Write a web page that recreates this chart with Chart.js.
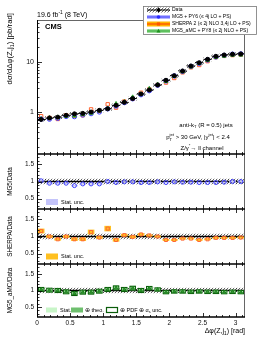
<!DOCTYPE html>
<html>
<head>
<meta charset="utf-8">
<script src="https://cdn.jsdelivr.net/npm/chart.js@4.4.1/dist/chart.umd.min.js"></script>
<style>
  html, body { margin: 0; padding: 0; background: #fff; }
  canvas { display: block; }
</style>
</head>
<body>
<canvas id="canvas" width="266" height="344"></canvas>
<script>
// dphi(Z,j1) bin centres, 25 bins from 0 to pi
const binCenters = [0.063, 0.188, 0.314, 0.440, 0.565, 0.691, 0.817, 0.942, 1.068, 1.194, 1.319, 1.445, 1.571,
                    1.696, 1.822, 1.948, 2.073, 2.199, 2.325, 2.450, 2.576, 2.702, 2.827, 2.953, 3.079];
const binHalf = 0.0628;

// measured cross section [pb/rad] and its relative uncertainty
const dataXsec = [0.71, 0.76, 0.79, 0.86, 0.92, 0.94, 1.00, 1.08, 1.16, 1.36, 1.56, 1.86, 2.29,
                  2.75, 3.47, 4.31, 5.32, 6.61, 8.32, 9.68, 11.3, 13.0, 13.8, 14.3, 14.5];
const dataUnc = [0.07, 0.07, 0.07, 0.07, 0.07, 0.07, 0.07, 0.07, 0.07, 0.07, 0.07, 0.07, 0.07,
                 0.07, 0.07, 0.07, 0.07, 0.07, 0.07, 0.07, 0.07, 0.07, 0.07, 0.07, 0.07];

// predictions / data
const mg5Ratio = [1.02, 0.95, 0.95, 0.95, 0.88, 0.93, 0.93, 0.93, 1.00, 0.97, 0.99, 0.99, 0.97,
                  0.97, 0.99, 0.97, 0.99, 0.98, 0.98, 0.97, 0.97, 0.97, 0.98, 1.00, 1.00];
const mg5Stat = [0.02, 0.02, 0.02, 0.02, 0.02, 0.02, 0.02, 0.02, 0.02, 0.02, 0.02, 0.02, 0.02,
                 0.02, 0.02, 0.02, 0.02, 0.02, 0.02, 0.02, 0.02, 0.02, 0.02, 0.02, 0.02];
const sherpaRatio = [1.16, 1.00, 0.92, 1.00, 0.92, 0.92, 1.13, 0.97, 1.23, 0.90, 1.04, 0.99, 1.06,
                     1.03, 1.00, 0.90, 0.90, 0.94, 0.94, 0.90, 0.92, 0.96, 0.96, 0.96, 0.97];
const sherpaStat = [0.07, 0.04, 0.04, 0.04, 0.05, 0.05, 0.07, 0.04, 0.08, 0.05, 0.04, 0.04, 0.04,
                    0.03, 0.03, 0.03, 0.03, 0.03, 0.03, 0.03, 0.03, 0.03, 0.03, 0.03, 0.03];
const amcRatio = [1.03, 1.01, 1.00, 0.96, 0.91, 0.95, 0.95, 0.98, 1.03, 1.08, 1.03, 1.07, 1.00,
                  1.07, 1.03, 0.95, 0.97, 0.97, 0.96, 0.97, 0.96, 0.96, 0.95, 0.96, 0.95];
const amcStat = [0.03, 0.03, 0.03, 0.03, 0.03, 0.03, 0.03, 0.03, 0.03, 0.03, 0.03, 0.03, 0.03,
                 0.03, 0.03, 0.03, 0.03, 0.03, 0.03, 0.03, 0.03, 0.03, 0.03, 0.03, 0.03];
const amcTheo = [0.07, 0.07, 0.07, 0.07, 0.07, 0.07, 0.07, 0.07, 0.07, 0.07, 0.07, 0.07, 0.07,
                 0.06, 0.06, 0.06, 0.06, 0.06, 0.06, 0.06, 0.06, 0.06, 0.06, 0.06, 0.06];
const amcPdf = [0.08, 0.08, 0.08, 0.08, 0.08, 0.08, 0.08, 0.08, 0.08, 0.08, 0.08, 0.08, 0.08,
                0.07, 0.07, 0.07, 0.07, 0.07, 0.07, 0.07, 0.07, 0.07, 0.07, 0.07, 0.07];

const xTickVals = [0, 0.5, 1, 1.5, 2, 2.5, 3];
const mainTickVals = [1, 10];
const ratioTickVals = [0.5, 1, 1.5];

const FONT = '"Liberation Sans", Arial, sans-serif';
const canvas = document.getElementById('canvas');
const ctx = canvas.getContext('2d');

// hatch pattern for data uncertainty
const hc = document.createElement('canvas');
hc.width = 3; hc.height = 3;
const hg = hc.getContext('2d');
hg.strokeStyle = '#000'; hg.lineWidth = 0.6;
hg.beginPath(); hg.moveTo(0, 3); hg.lineTo(3, 0); hg.stroke();
const hatch = ctx.createPattern(hc, 'repeat');

function pts(vals) {
  return binCenters.map((x, i) => ({ x: x, y: vals[i] }));
}
function band(center, half) {
  return binCenters.map((x, i) => ({ x: x, y: [center[i] - half[i], center[i] + half[i]] }));
}
function barSet(axis, data, fill, order, pct, border) {
  return {
    type: 'bar', yAxisID: axis, data: data, backgroundColor: fill,
    borderColor: border || 'rgba(0,0,0,0)', borderWidth: border ? 1.1 : 0, borderSkipped: false,
    grouped: false, barPercentage: pct || 1, categoryPercentage: 1, order: order
  };
}
function markSet(axis, data, style, color, fill, r, order) {
  return {
    type: 'scatter', yAxisID: axis, data: data, pointStyle: style, pointRadius: r,
    borderColor: color, backgroundColor: fill, pointBorderWidth: 1, showLine: false, order: order
  };
}

const ones = binCenters.map(() => 1);
const mg5Main = dataXsec.map((v, i) => v * mg5Ratio[i]);
const sherpaMain = dataXsec.map((v, i) => v * sherpaRatio[i]);
const amcMain = dataXsec.map((v, i) => v * amcRatio[i]);
const dataAbsUnc = dataXsec.map((v, i) => v * dataUnc[i]);

const datasets = [
  // main panel
  barSet('y0', band(dataXsec, dataAbsUnc), hatch, 20),
  markSet('y0', pts(sherpaMain), 'rect', '#ff6633', 'rgba(0,0,0,0)', 2.4, 4),
  markSet('y0', pts(mg5Main), 'circle', '#3b3bff', 'rgba(0,0,0,0)', 2.2, 3),
  markSet('y0', pts(amcMain), 'triangle', '#2e9e2e', '#2e9e2e', 2.2, 2),
  markSet('y0', pts(dataXsec), 'circle', '#000', '#000', 2, 0),
  // MG5 / data
  barSet('y1', band(ones, dataUnc), hatch, 20),
  barSet('y1', band(mg5Ratio, mg5Stat), '#c4c4fa', 15, 0.8),
  markSet('y1', pts(mg5Ratio), 'circle', '#3b3bff', 'rgba(0,0,0,0)', 2, 3),
  // SHERPA / data
  barSet('y2', band(ones, dataUnc), hatch, 20),
  barSet('y2', band(sherpaRatio, sherpaStat), '#ffc020', 15, 0.8),
  markSet('y2', pts(sherpaRatio), 'rect', '#ff6633', 'rgba(0,0,0,0)', 2.2, 3),
  // MG5_aMC / data
  barSet('y3', band(ones, dataUnc), hatch, 20),
  barSet('y3', band(amcRatio, amcPdf), 'rgba(0,0,0,0)', 12, 0.8, '#0b5d0b'),
  barSet('y3', band(amcRatio, amcTheo), '#6ebf6e', 14, 0.8),
  barSet('y3', band(amcRatio, amcStat), '#c8f5c8', 13, 0.8),
  markSet('y3', pts(amcRatio), 'triangle', '#1f7f1f', '#2e9e2e', 2, 3)
];

const tickFont = { family: FONT, size: 6.5 };
function ratioAxis(weight) {
  return {
    type: 'linear', position: 'left', stack: 'panels', stackWeight: weight, min: 0.2, max: 1.8,
    grid: { display: false, drawTicks: false }, border: { display: false },
    ticks: { font: tickFont, color: '#111', padding: 3, callback: v => String(v) },
    afterBuildTicks: s => { s.ticks = ratioTickVals.map(v => ({ value: v })); },
    afterFit: s => { s.width = 37; }
  };
}

// rich text: parts with optional sub / sup
function richWidth(c, parts, size) {
  let w = 0;
  parts.forEach(p => {
    if (p.ss) {
      c.font = (size * 0.7) + 'px ' + FONT;
      w += Math.max(c.measureText(p.ss[0]).width, c.measureText(p.ss[1]).width);
    } else {
      c.font = (p.s ? size * 0.7 : size) + 'px ' + FONT;
      w += c.measureText(p.t).width;
    }
  });
  return w;
}
function richText(c, parts, x, y, size, align) {
  const w = richWidth(c, parts, size);
  let cx = align === 'right' ? x - w : align === 'center' ? x - w / 2 : x;
  c.textBaseline = 'middle'; c.textAlign = 'left';
  parts.forEach(p => {
    if (p.ss) {
      c.font = (size * 0.7) + 'px ' + FONT;
      c.fillText(p.ss[0], cx, y + size * 0.35);
      c.fillText(p.ss[1], cx, y - size * 0.4);
      cx += Math.max(c.measureText(p.ss[0]).width, c.measureText(p.ss[1]).width);
    } else {
      c.font = (p.s ? size * 0.7 : size) + 'px ' + FONT;
      const dy = p.s === 'sub' ? size * 0.35 : p.s === 'sup' ? -size * 0.4 : 0;
      c.fillText(p.t, cx, y + dy);
      cx += c.measureText(p.t).width;
    }
  });
}

function line(c, x1, y1, x2, y2) {
  c.beginPath(); c.moveTo(x1, y1); c.lineTo(x2, y2); c.stroke();
}

const rootStyle = {
  id: 'rootStyle',
  beforeDatasetsDraw(chart) {
    const c = chart.ctx, x = chart.scales.x;
    c.save();
    c.strokeStyle = '#000'; c.lineWidth = 1.4;
    ['y1', 'y2', 'y3'].forEach(id => {
      const py = chart.scales[id].getPixelForValue(1);
      line(c, x.left, py, x.right, py);
    });
    c.restore();
  },
  afterDatasetsDraw(chart) {
    const c = chart.ctx, x = chart.scales.x, y0 = chart.scales.y0;
    c.save();
    c.strokeStyle = '#000'; c.lineWidth = 1;
    binCenters.forEach((b, i) => {
      const py = y0.getPixelForValue(dataXsec[i]);
      line(c, x.getPixelForValue(b - binHalf), py, x.getPixelForValue(b + binHalf), py);
    });
    c.restore();
  },
  afterDraw(chart) {
    const c = chart.ctx, x = chart.scales.x, sc = chart.scales;
    const L = x.left, R = x.right;
    c.save();
    c.lineCap = 'butt';
    // frames
    c.strokeStyle = '#666'; c.lineWidth = 1;
    line(c, L, sc.y0.top + 0.5, R, sc.y0.top + 0.5);
    line(c, R - 0.5, sc.y0.top, R - 0.5, sc.y3.bottom);
    c.strokeStyle = '#000';
    line(c, L + 0.5, sc.y0.top, L + 0.5, sc.y3.bottom);
    c.lineWidth = 1.6;
    [sc.y1.top, sc.y2.top, sc.y3.top, sc.y3.bottom].forEach(py => line(c, L, py, R, py));

    // x ticks on every panel
    c.lineWidth = 0.8;
    ['y0', 'y1', 'y2', 'y3'].forEach(id => {
      const s = sc[id];
      for (let k = 0; k <= 31; k++) {
        const v = k / 10;
        const px = Math.round(x.getPixelForValue(v)) + 0.5;
        const len = k % 5 === 0 ? 4 : 2;
        line(c, px, s.bottom, px, s.bottom - len);
        if (id !== 'y0') line(c, px, s.top, px, s.top + len);
      }
    });
    // y ticks, main log axis
    const y0 = sc.y0;
    const logMinor = [0.2, 0.3, 0.4, 0.5, 0.6, 0.7, 0.8, 0.9, 2, 3, 4, 5, 6, 7, 8, 9, 20, 30, 40, 50, 60];
    logMinor.forEach(v => {
      const py = Math.round(y0.getPixelForValue(v)) + 0.5;
      if (py > y0.top && py < y0.bottom) line(c, L, py, L + 2.5, py);
    });
    mainTickVals.forEach(v => {
      const py = Math.round(y0.getPixelForValue(v)) + 0.5;
      line(c, L, py, L + 5, py);
    });
    // y ticks, ratio axes
    ['y1', 'y2', 'y3'].forEach(id => {
      const s = sc[id];
      for (let k = 3; k <= 17; k++) {
        const py = Math.round(s.getPixelForValue(k / 10)) + 0.5;
        line(c, L, py, L + (k % 5 === 0 ? 5 : 2.5), py);
      }
    });

    c.fillStyle = '#000';
    // header texts
    richText(c, [{ t: '19.6 fb' }, { t: '-1', s: 'sup' }, { t: ' (8 TeV)' }], 37, 15, 7, 'left');
    c.font = 'bold 7.5px ' + FONT; c.textBaseline = 'middle';
    c.fillText('CMS', 45, 27);

    // selection texts
    richText(c, [{ t: 'anti-k' }, { t: 'T', s: 'sub' }, { t: ' (R = 0.5) jets' }], 206, 125, 6, 'center');
    richText(c, [{ t: 'p' }, { ss: ['T', 'jet'] }, { t: ' > 30 GeV, |y' }, { t: 'jet', s: 'sup' }, { t: '| < 2.4' }], 198, 137.5, 6, 'center');
    richText(c, [{ t: 'Z/\u03b3' }, { t: '*', s: 'sup' }, { t: '\u2192 ll channel' }], 202, 148, 6, 'center');

    // axis titles
    c.save();
    c.translate(10, 13); c.rotate(-Math.PI / 2);
    richText(c, [{ t: 'd\u03c3/d\u0394\u03c6(Z,j' }, { t: '1', s: 'sub' }, { t: ') [pb/rad]' }], 0, 0, 7.8, 'right');
    c.restore();
    [['y1', 'MG5/Data'], ['y2', 'SHERPA/Data'], ['y3', 'MG5_aMC/Data']].forEach(([id, txt]) => {
      const s = sc[id];
      c.save();
      c.translate(10, (s.top + s.bottom) / 2); c.rotate(-Math.PI / 2);
      richText(c, [{ t: txt }], 0, 0, 6.3, 'center');
      c.restore();
    });
    richText(c, [{ t: '\u0394\u03c6(Z,j' }, { t: '1', s: 'sub' }, { t: ') [rad]' }], R, 331, 7, 'right');

    // ratio panel legends
    const ly1 = sc.y1.bottom - 7;
    c.fillStyle = '#c4c4fa'; c.fillRect(46, ly1 - 3, 12, 6);
    c.fillStyle = '#000'; richText(c, [{ t: 'Stat. unc.' }], 61, ly1, 5.5, 'left');
    const ly2 = sc.y2.bottom - 7.5;
    c.fillStyle = '#ffc020'; c.fillRect(46, ly2 - 3, 12, 6);
    c.fillStyle = '#000'; richText(c, [{ t: 'Stat. unc.' }], 61, ly2, 5.5, 'left');
    const ly3 = sc.y3.bottom - 7;
    c.fillStyle = '#c8f5c8'; c.fillRect(46, ly3 - 2.5, 11, 5);
    c.fillStyle = '#000'; richText(c, [{ t: 'Stat.' }], 60, ly3, 5.5, 'left');
    c.fillStyle = '#6ebf6e'; c.fillRect(71, ly3 - 2.5, 12, 5);
    c.fillStyle = '#000'; richText(c, [{ t: '\u2295 theo.' }], 85, ly3, 5.5, 'left');
    c.strokeStyle = '#0b5d0b'; c.lineWidth = 1.2; c.strokeRect(106.5, ly3 - 2.5, 11, 5);
    c.fillStyle = '#000'; richText(c, [{ t: '\u2295 PDF \u2295 \u03b1' }, { t: 's', s: 'sub' }, { t: ' unc.' }], 120, ly3, 5.5, 'left');

    // main legend
    c.fillStyle = '#fff'; c.fillRect(143, 6, 114, 29);
    c.strokeStyle = '#777'; c.lineWidth = 0.8; c.strokeRect(143.5, 6.5, 113, 28);
    const sx1 = 147, sx2 = 170, sxc = 158.5;
    // data
    let ry = 10;
    c.fillStyle = hatch; c.fillRect(sx1, ry - 2.5, sx2 - sx1, 5);
    c.strokeStyle = '#000'; c.lineWidth = 1; line(c, sx1, ry, sx2, ry); line(c, sxc, ry - 2.5, sxc, ry + 2.5);
    c.fillStyle = '#000'; c.beginPath(); c.arc(sxc, ry, 1.8, 0, Math.PI * 2); c.fill();
    richText(c, [{ t: 'Data' }], 172, ry, 5, 'left');
    // MG5
    ry = 17;
    c.fillStyle = '#b4b4ff'; c.fillRect(sx1, ry - 2, sx2 - sx1, 4);
    c.strokeStyle = '#2b2bff'; line(c, sx1, ry, sx2, ry);
    c.fillStyle = '#2b2bff'; c.beginPath(); c.arc(sxc, ry, 1.8, 0, Math.PI * 2); c.fill();
    c.fillStyle = '#000'; richText(c, [{ t: 'MG5 + PY6 (\u2264 4j LO + PS)' }], 172, ry, 5, 'left');
    // SHERPA
    ry = 24;
    c.fillStyle = '#ffb400'; c.fillRect(sx1, ry - 2.5, sx2 - sx1, 5);
    c.strokeStyle = '#ff3300'; line(c, sx1, ry, sx2, ry);
    c.fillStyle = '#ff5500'; c.fillRect(sxc - 1.6, ry - 1.6, 3.2, 3.2);
    c.fillStyle = '#000'; richText(c, [{ t: 'SHERPA 2 (\u2264 2j NLO 3,4j LO + PS)' }], 172, ry, 5, 'left');
    // MG5_aMC
    ry = 31;
    c.fillStyle = '#9fdf9f'; c.fillRect(sx1, ry - 2, sx2 - sx1, 4);
    c.strokeStyle = '#1f9f1f'; line(c, sx1, ry, sx2, ry);
    c.fillStyle = '#1f8f1f'; c.beginPath(); c.moveTo(sxc, ry - 2.2); c.lineTo(sxc + 2, ry + 1.5); c.lineTo(sxc - 2, ry + 1.5); c.closePath(); c.fill();
    c.fillStyle = '#000'; richText(c, [{ t: 'MG5_aMC + PY8 (\u2264 2j NLO + PS)' }], 172, ry, 5, 'left');
    c.restore();
  }
};

const chart = new Chart(ctx, {
  type: 'bar',
  data: { datasets: datasets },
  options: {
    responsive: false,
    animation: false,
    layout: { padding: { top: 20, right: 21, left: 0, bottom: 0 } },
    plugins: { legend: { display: false }, tooltip: { enabled: false } },
    scales: {
      x: {
        type: 'linear', position: 'bottom', min: 0, max: Math.PI, offset: false,
        grid: { display: false, drawTicks: false, offset: false }, border: { display: false },
        ticks: { font: tickFont, color: '#111', padding: 2, maxRotation: 0, callback: v => String(v) },
        afterBuildTicks: s => { s.ticks = xTickVals.map(v => ({ value: v })); },
        afterFit: s => { s.height = 27; }
      },
      y3: ratioAxis(53),
      y2: ratioAxis(55),
      y1: ratioAxis(55),
      y0: {
        type: 'logarithmic', position: 'left', stack: 'panels', stackWeight: 134, min: 0.145, max: 69,
        grid: { display: false, drawTicks: false }, border: { display: false },
        ticks: { font: { family: FONT, size: 7 }, color: '#111', padding: 3, callback: v => String(v) },
        afterBuildTicks: s => { s.ticks = mainTickVals.map(v => ({ value: v })); },
        afterFit: s => { s.width = 37; }
      }
    }
  },
  plugins: [rootStyle]
});
</script>
</body>
</html>
